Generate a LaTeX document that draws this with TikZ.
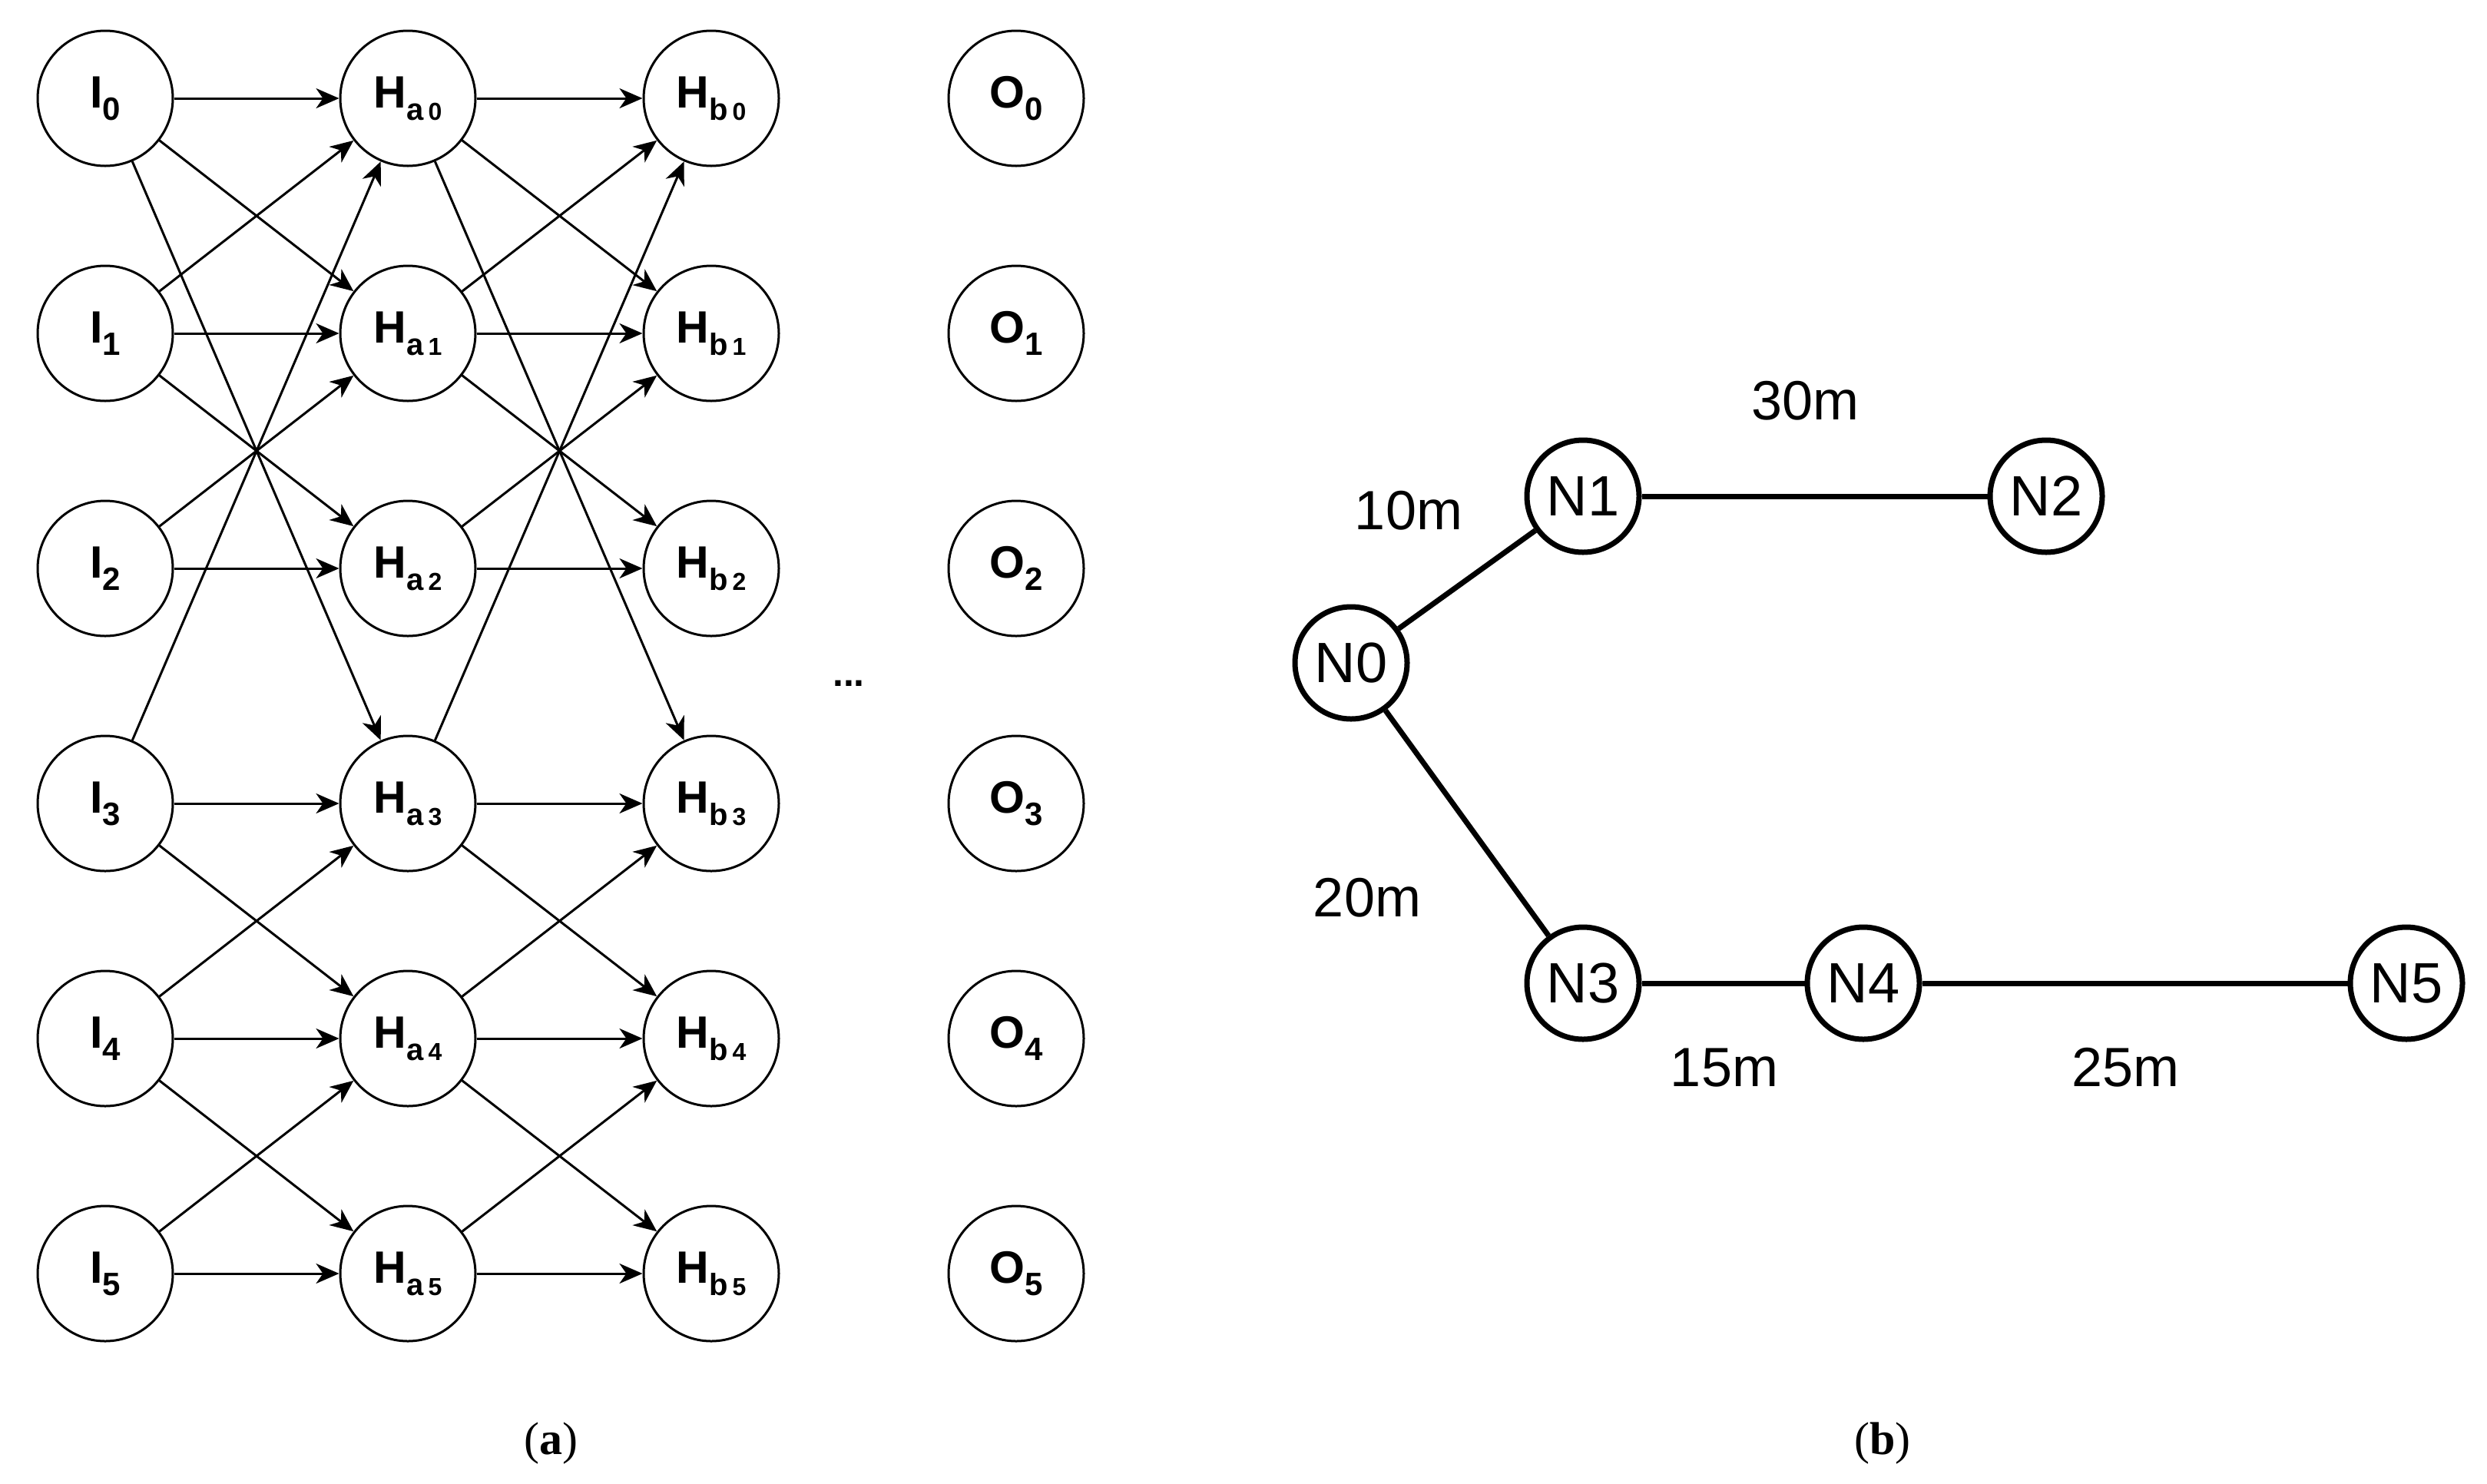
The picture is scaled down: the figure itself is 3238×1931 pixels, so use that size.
\documentclass[tikz,border=0pt]{standalone}
\usepackage{fontspec}
\setmainfont{Liberation Serif}
\newfontfamily\sansf{Liberation Sans}
\usetikzlibrary{arrows.meta}
\begin{document}
\begin{tikzpicture}[x=1pt,y=-1pt,
  nn/.style={circle,draw,line width=3pt,minimum size=176pt,inner sep=0pt,font=\sansf\bfseries\fontsize{59}{59}\selectfont},
  ar/.style={line width=3pt,-{Stealth[length=30pt,width=26pt,inset=9pt]}},
  bn/.style={circle,draw,line width=7pt,minimum size=146pt,inner sep=0pt,font=\sansf\fontsize{74}{74}\selectfont},
  be/.style={line width=7pt},
  lb/.style={font=\sansf\fontsize{72}{72}\selectfont},
  captxt/.style={font=\fontsize{60}{60}\selectfont}]
\useasboundingbox (0,0) rectangle (3238,1931);
\newcommand{\sbx}[1]{{\fontsize{42}{42}\selectfont\raisebox{-16pt}{#1}}}
\newcommand{\sbh}[2]{{\fontsize{40}{40}\selectfont\raisebox{-16pt}{#1\hspace{6pt}\fontsize{32}{32}\selectfont#2}}}
\foreach \i in {0,...,5}{
  \pgfmathsetmacro{\yy}{128+306*\i}
  \node[nn] (I\i) at (137,\yy) {I\sbx{\i}};
  \node[nn] (A\i) at (531,\yy) {H\sbh{a}{\i}};
  \node[nn] (B\i) at (926,\yy) {H\sbh{b}{\i}};
  \node[nn] (O\i) at (1323,\yy) {O\sbx{\i}};
}
\foreach \s/\t in {0/0,0/1,0/3,1/0,1/1,1/2,2/1,2/2,3/0,3/3,3/4,4/3,4/4,4/5,5/4,5/5}{
  \draw[ar] (I\s) -- (A\t);
  \draw[ar] (A\s) -- (B\t);
}
\node[font=\sansf\bfseries\fontsize{50}{50}\selectfont] (dots) at (1105,890) {...};
% panel b
\node[bn] (N0) at (1759,863) {N0};
\node[bn] (N1) at (2061,646) {N1};
\node[bn] (N2) at (2664,646) {N2};
\node[bn] (N3) at (2061,1280) {N3};
\node[bn] (N4) at (2426,1280) {N4};
\node[bn] (N5) at (3133,1280) {N5};
\draw[be] (N0) -- (N1);
\draw[be] (N1) -- (N2);
\draw[be] (N0) -- (N3);
\draw[be] (N3) -- (N4);
\draw[be] (N4) -- (N5);
\node[lb] (l30) at (2350,522) {30m};
\node[lb] (l10) at (1834,665) {10m};
\node[lb] (l20) at (1780,1169) {20m};
\node[lb] (l15) at (2245,1390) {15m};
\node[lb] (l25) at (2767,1390) {25m};
\node[captxt] (ca) at (717,1879) {(\textbf{a})};
\node[captxt] (cb) at (2451,1879) {(\textbf{b})};
\end{tikzpicture}
\end{document}
